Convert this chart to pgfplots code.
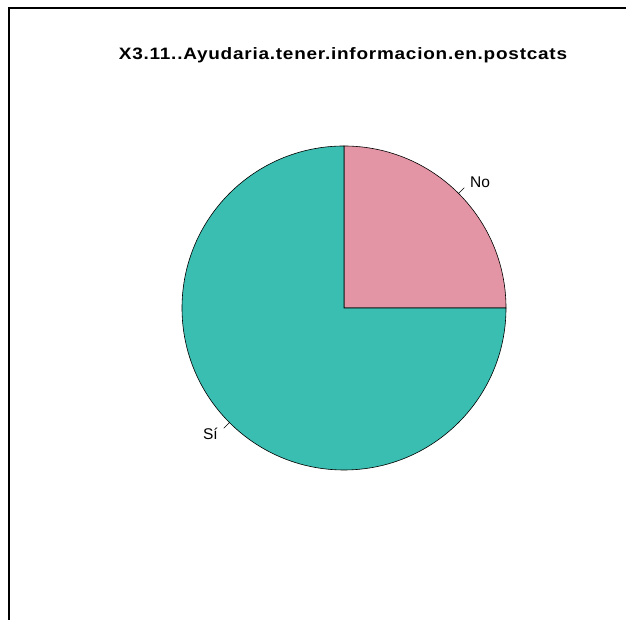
\documentclass[border=0pt]{standalone}
\usepackage{pgfplots}
\pgfplotsset{compat=1.18}
\usetikzlibrary{calc}
\usepackage{fontspec}
\setmainfont{Liberation Sans}
\definecolor{pinkc}{HTML}{E495A5}
\definecolor{tealc}{HTML}{39BEB1}
\begin{document}
\begin{tikzpicture}
% values (percent)
\def\valNo{25}
\def\valSi{75}
\begin{axis}[x=1pt,y=1pt,xmin=0,xmax=626,ymin=0,ymax=620,
  hide axis, clip=false, anchor=origin, at={(0,0)}]
\pgfmathsetmacro{\angNo}{360*\valNo/(\valNo+\valSi)}
\filldraw[fill=pinkc,draw=black,line width=0.6pt] (axis cs:344,312) -- ++(0:162pt) arc[start angle=0,end angle=\angNo,radius=162pt] -- cycle;
\filldraw[fill=tealc,draw=black,line width=0.6pt] (axis cs:344,312) -- ++(\angNo:162pt) arc[start angle=\angNo,end angle=360,radius=162pt] -- cycle;
\pgfmathsetmacro{\midNo}{\angNo/2}
\pgfmathsetmacro{\midSi}{(\angNo+360)/2}
\draw[line width=0.6pt] (axis cs:344,312) ++(\midNo:162pt) -- ++(\midNo:8.1pt);
\draw[line width=0.6pt] (axis cs:344,312) ++(\midSi:162pt) -- ++(\midSi:8.1pt);
\node[anchor=west,inner sep=0pt,font=\fontsize{15.5}{17}\selectfont] at ($(axis cs:344,312)+(\midNo:178.2pt)$) {No};
\node[anchor=east,inner sep=0pt,font=\fontsize{15.5}{17}\selectfont] at ($(axis cs:344,312)+(\midSi:178.2pt)$) {Sí};
\node[xscale=1.15,font=\fontsize{16.5}{18}\selectfont\bfseries\addfontfeature{LetterSpace=4}] at (axis cs:343,565) {X3.11..Ayudaria.tener.informacion.en.postcats};
\end{axis}
\fill[black] (8pt,0pt) rectangle (10pt,613pt);
\fill[black] (8pt,611pt) rectangle (626pt,613pt);
\pgfresetboundingbox
\useasboundingbox (0,0) rectangle (626pt,620pt);
\end{tikzpicture}
\end{document}
